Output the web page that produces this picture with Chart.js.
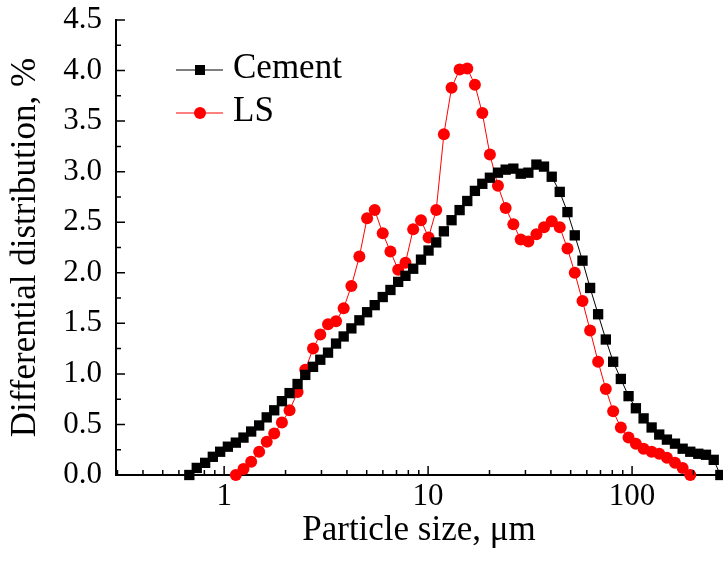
<!DOCTYPE html>
<html>
<head>
<meta charset="utf-8">
<script src="https://cdn.jsdelivr.net/npm/chart.js@4.4.0/dist/chart.umd.min.js"></script>
<style>
  html, body { margin: 0; padding: 0; background: #fff; }
</style>
</head>
<body>
<canvas id="psdChart" width="723" height="565"></canvas>
<script>
// Particle size classes (um), shared by both samples
const sizes = [
  0.675, 0.734, 0.807, 0.880, 0.956, 1.043, 1.141, 1.244, 1.357, 1.485,
  1.617, 1.760, 1.920, 2.093, 2.291, 2.499, 2.728, 2.961, 3.231, 3.537,
  3.855, 4.206, 4.603, 5.022, 5.473, 5.991, 6.536, 7.133, 7.745, 8.451,
  9.229, 10.05, 10.96, 11.95, 13.03, 14.27, 15.56, 16.96, 18.44, 20.09,
  22.00, 24.00, 26.18, 28.44, 31.01, 33.96, 37.01, 40.37, 44.20, 48.22,
  52.37, 57.14, 62.28, 68.16, 74.35, 80.78, 88.10, 96.11, 104.4, 113.9,
  124.7, 135.9, 148.2, 162.3, 177.0, 192.9, 211.2, 230.4, 251.4, 270.9
];

// Differential distribution, %
const cement = [
  0.00, 0.07, 0.12, 0.18, 0.23, 0.28, 0.32, 0.37, 0.43, 0.49,
  0.57, 0.64, 0.73, 0.81, 0.90, 0.99, 1.07, 1.14, 1.21, 1.30,
  1.37, 1.45, 1.53, 1.61, 1.68, 1.76, 1.83, 1.91, 1.97, 2.04,
  2.13, 2.22, 2.30, 2.41, 2.52, 2.62, 2.71, 2.81, 2.88, 2.94,
  2.99, 3.02, 3.03, 2.98, 2.99, 3.07, 3.05, 2.95, 2.80, 2.60,
  2.37, 2.12, 1.85, 1.59, 1.34, 1.12, 0.95, 0.78, 0.66, 0.56,
  0.47, 0.40, 0.35, 0.31, 0.26, 0.23, 0.21, 0.20, 0.15, 0.00
];

// LS only covers 1.14 - 193 um (size classes 6..65)
const lsSizes = sizes.slice(6, 66);
const ls = [
  0.00, 0.06, 0.13, 0.23, 0.33, 0.41, 0.52, 0.64, 0.82, 1.04,
  1.25, 1.39, 1.49, 1.52, 1.65, 1.87, 2.16, 2.54, 2.62, 2.39,
  2.21, 2.03, 2.10, 2.43, 2.52, 2.35, 2.62, 3.37, 3.83, 4.01,
  4.02, 3.86, 3.58, 3.17, 2.86, 2.64, 2.48, 2.33, 2.31, 2.38,
  2.45, 2.51, 2.45, 2.24, 2.00, 1.72, 1.43, 1.12, 0.85, 0.63,
  0.47, 0.37, 0.31, 0.26, 0.23, 0.21, 0.17, 0.12, 0.07, 0.00
];

const xTicks = [1, 10, 100];
const yTicks = [0, 0.5, 1, 1.5, 2, 2.5, 3, 3.5, 4, 4.5];

const serif = "'Liberation Serif', 'Times New Roman', serif";

function toPoints(xs, ys) {
  return ys.map((v, i) => ({ x: xs[i], y: v }));
}

// Draws inward tick marks and the legend inside the plot
const extras = {
  id: 'extras',
  afterDraw(chart) {
    const { ctx, chartArea: a, scales: { x, y } } = chart;
    ctx.save();
    ctx.strokeStyle = '#000';
    ctx.lineWidth = 1.5;
    ctx.beginPath();
    for (let e = -1; e <= 2; e++) {
      for (let m = 1; m <= 9; m++) {
        const v = m * Math.pow(10, e);
        if (v < x.min || v > x.max) continue;
        const px = x.getPixelForValue(v);
        const len = m === 1 ? 9 : 5;
        ctx.moveTo(px, a.bottom);
        ctx.lineTo(px, a.bottom - len);
      }
    }
    for (let k = 0; k <= 18; k++) {
      const py = y.getPixelForValue(k * 0.25);
      const len = k % 2 === 0 ? 9 : 5;
      ctx.moveTo(a.left, py);
      ctx.lineTo(a.left + len, py);
    }
    ctx.stroke();

    // legend
    ctx.font = '35px ' + serif;
    ctx.textBaseline = 'middle';
    ctx.textAlign = 'left';
    chart.data.datasets.forEach((ds, i) => {
      const ly = a.top + 50 + i * 43;
      const lx = a.left + 60;
      ctx.strokeStyle = ds.borderColor;
      ctx.lineWidth = 1;
      ctx.beginPath();
      ctx.moveTo(lx, ly);
      ctx.lineTo(lx + 47, ly);
      ctx.stroke();
      ctx.fillStyle = ds.pointBackgroundColor;
      const cx = lx + 24;
      if (ds.pointStyle === 'rect') {
        ctx.fillRect(cx - 5, ly - 5, 10, 10);
      } else {
        ctx.beginPath();
        ctx.arc(cx, ly, 6, 0, Math.PI * 2);
        ctx.fill();
      }
      ctx.fillStyle = '#000';
      ctx.fillText(ds.label, lx + 57, ly - 1);
    });
    ctx.restore();
  }
};

new Chart(document.getElementById('psdChart'), {
  type: 'line',
  data: {
    datasets: [
      {
        label: 'Cement',
        data: toPoints(sizes, cement),
        borderColor: '#000000',
        borderWidth: 1,
        pointStyle: 'rect',
        pointRadius: 7.3,
        pointBackgroundColor: '#000000',
        pointBorderWidth: 0,
        clip: false
      },
      {
        label: 'LS',
        data: toPoints(lsSizes, ls),
        borderColor: '#ff0000',
        borderWidth: 1,
        pointStyle: 'circle',
        pointRadius: 6,
        pointBackgroundColor: '#ff0000',
        pointBorderWidth: 0,
        clip: false
      }
    ]
  },
  options: {
    responsive: false,
    animation: false,
    devicePixelRatio: 1,
    layout: { autoPadding: false, padding: { top: 20, right: 1, left: 0, bottom: 0 } },
    plugins: {
      legend: { display: false },
      tooltip: { enabled: false }
    },
    scales: {
      x: {
        type: 'logarithmic',
        min: 0.295,
        max: 276,
        afterFit: s => { s.height = 90; s.paddingLeft = 0; s.paddingRight = 0; },
        afterBuildTicks: s => { s.ticks = xTicks.map(v => ({ value: v })); },
        grid: { display: false, drawTicks: false },
        border: { display: true, color: '#000', width: 2 },
        ticks: {
          color: '#000',
          font: { family: serif, size: 31 },
          padding: 3,
          maxRotation: 0,
          callback: v => String(v)
        },
        title: {
          display: true,
          text: 'Particle size, μm',
          color: '#000',
          font: { family: serif, size: 35 },
          padding: { top: 0, bottom: 13 }
        }
      },
      y: {
        min: 0,
        max: 4.5,
        afterFit: s => { s.width = 116; s.paddingTop = 0; s.paddingBottom = 0; },
        afterBuildTicks: s => { s.ticks = yTicks.map(v => ({ value: v })); },
        grid: { display: false, drawTicks: false },
        border: { display: true, color: '#000', width: 2 },
        ticks: {
          color: '#000',
          font: { family: serif, size: 31 },
          padding: 14,
          callback: v => Number(v).toFixed(1)
        },
        title: {
          display: true,
          text: 'Differential distribution, %',
          color: '#000',
          font: { family: serif, size: 35 },
          padding: { top: 5, bottom: 0 }
        }
      }
    }
  },
  plugins: [extras]
});
</script>
</body>
</html>
